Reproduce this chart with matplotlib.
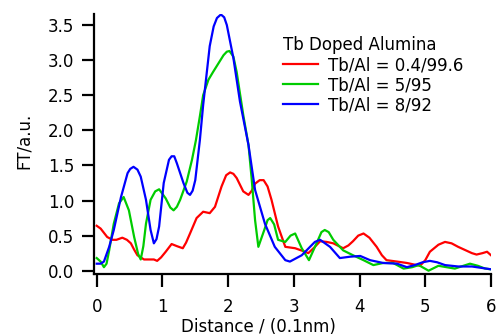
import matplotlib
matplotlib.use("Agg")
import matplotlib.pyplot as plt

plt.rcParams['font.family'] = ['DejaVu Sans']

# distance (0.1 nm) and FT amplitude
red_x = [0.0, 0.06, 0.16, 0.24, 0.30, 0.39, 0.46, 0.52, 0.57, 0.62, 0.72, 0.87, 0.92,
         0.98, 1.05, 1.14, 1.22, 1.31, 1.36, 1.42, 1.52, 1.62, 1.72, 1.80, 1.90, 1.97,
         2.03, 2.08, 2.13, 2.23, 2.31, 2.36, 2.41, 2.48, 2.54, 2.60, 2.66, 2.76, 2.87,
         3.02, 3.17, 3.22, 3.31, 3.40, 3.50, 3.60, 3.75, 3.83, 3.90, 3.98, 4.06, 4.15,
         4.26, 4.34, 4.41, 4.57, 4.72, 4.92, 5.00, 5.07, 5.20, 5.30, 5.40, 5.50, 5.71,
         5.78, 5.87, 5.94, 6.00]
red_y = [0.64, 0.60, 0.48, 0.44, 0.44, 0.47, 0.44, 0.39, 0.30, 0.22, 0.16, 0.16, 0.14,
         0.19, 0.27, 0.38, 0.35, 0.32, 0.40, 0.53, 0.75, 0.84, 0.82, 0.91, 1.20, 1.36,
         1.40, 1.38, 1.32, 1.13, 1.08, 1.14, 1.24, 1.29, 1.29, 1.20, 1.01, 0.63, 0.34,
         0.32, 0.27, 0.25, 0.33, 0.42, 0.41, 0.39, 0.32, 0.36, 0.42, 0.50, 0.53, 0.47,
         0.34, 0.22, 0.15, 0.13, 0.11, 0.07, 0.15, 0.27, 0.37, 0.41, 0.39, 0.34, 0.25,
         0.23, 0.25, 0.27, 0.22]

green_x = [0.0, 0.06, 0.11, 0.15, 0.19, 0.26, 0.34, 0.41, 0.49, 0.57, 0.63, 0.67, 0.71,
           0.75, 0.82, 0.89, 0.95, 1.05, 1.12, 1.17, 1.22, 1.27, 1.37, 1.45, 1.51, 1.57,
           1.62, 1.70, 1.77, 1.85, 1.93, 1.98, 2.02, 2.08, 2.13, 2.23, 2.31, 2.36, 2.41,
           2.46, 2.55, 2.60, 2.64, 2.70, 2.76, 2.87, 2.95, 3.02, 3.12, 3.23, 3.35, 3.42,
           3.47, 3.53, 3.60, 3.75, 3.90, 4.06, 4.21, 4.36, 4.51, 4.67, 4.80, 4.90, 5.05,
           5.20, 5.45, 5.58, 5.68, 5.80, 5.91, 6.00]
green_y = [0.18, 0.13, 0.05, 0.10, 0.29, 0.67, 0.96, 1.05, 0.86, 0.48, 0.24, 0.16, 0.35,
           0.67, 1.01, 1.13, 1.16, 1.03, 0.90, 0.86, 0.91, 1.01, 1.27, 1.58, 1.86, 2.20,
           2.50, 2.72, 2.83, 2.95, 3.07, 3.12, 3.13, 3.05, 2.83, 2.22, 1.79, 1.29, 0.72,
           0.34, 0.58, 0.72, 0.75, 0.66, 0.44, 0.41, 0.50, 0.53, 0.32, 0.15, 0.40, 0.55,
           0.58, 0.55, 0.44, 0.29, 0.22, 0.15, 0.08, 0.11, 0.11, 0.03, 0.05, 0.08, 0.00,
           0.07, 0.03, 0.07, 0.10, 0.07, 0.03, 0.02]

blue_x = [0.0, 0.06, 0.11, 0.19, 0.26, 0.37, 0.47, 0.51, 0.56, 0.62, 0.67, 0.75, 0.82,
          0.87, 0.91, 0.95, 1.02, 1.10, 1.14, 1.18, 1.22, 1.32, 1.38, 1.42, 1.46, 1.50,
          1.57, 1.62, 1.72, 1.78, 1.83, 1.89, 1.94, 1.98, 2.08, 2.18, 2.31, 2.41, 2.56,
          2.71, 2.87, 2.94, 3.12, 3.32, 3.40, 3.55, 3.70, 3.86, 4.01, 4.16, 4.36, 4.57,
          4.72, 4.84, 4.96, 5.07, 5.18, 5.30, 5.50, 5.71, 6.00]
blue_y = [0.10, 0.10, 0.13, 0.34, 0.58, 1.05, 1.39, 1.45, 1.48, 1.44, 1.34, 1.01, 0.58,
          0.39, 0.45, 0.63, 1.25, 1.58, 1.63, 1.63, 1.53, 1.25, 1.11, 1.08, 1.14, 1.29,
          1.86, 2.36, 3.20, 3.48, 3.60, 3.65, 3.61, 3.50, 3.03, 2.41, 1.79, 1.15, 0.67,
          0.34, 0.15, 0.13, 0.22, 0.41, 0.44, 0.34, 0.18, 0.20, 0.21, 0.15, 0.11, 0.10,
          0.05, 0.08, 0.12, 0.14, 0.12, 0.08, 0.06, 0.06, 0.02]

labels = ['Tb/Al = 0.4/99.6', 'Tb/Al = 5/95', 'Tb/Al = 8/92']
colors = ['#ff0000', '#00cc00', '#0000ff']

W, H = 499, 336
fig = plt.figure(figsize=(W / 100, H / 100), dpi=100)
ax = fig.add_axes([94 / W, (H - 274) / H, (491 - 94) / W, (274 - 14) / H])

for xs, ys, c, lab in zip([red_x, green_x, blue_x], [red_y, green_y, blue_y], colors, labels):
    ax.plot(xs, ys, color=c, lw=1.6, label=lab)

ax.set_xlim(-0.041, 6.0)
ax.set_ylim(-0.047, 3.657)
ax.set_xticks(range(7))
ax.set_yticks([0, 0.5, 1.0, 1.5, 2.0, 2.5, 3.0, 3.5])
ax.set_yticklabels(['0.0', '0.5', '1.0', '1.5', '2.0', '2.5', '3.0', '3.5'])
for s in ['top', 'right']:
    ax.spines[s].set_visible(False)
for s in ['left', 'bottom']:
    ax.spines[s].set_linewidth(1.6)
ax.tick_params(axis='both', direction='out', length=9, width=1.6, labelsize=12)
ax.tick_params(axis='y', pad=5)
ax.tick_params(axis='x', pad=8)
ax.patch.set_alpha(0)

fig.text(23.5 / W, 1 - 141 / H, 'FT/a.u.', rotation=90, ha='center', va='center', fontsize=12)
fig.text(258 / W, 1 - 318 / H, 'Distance / (0.1nm)', ha='center', va='top', fontsize=12)

leg = ax.legend(loc='upper left', bbox_to_anchor=(283 / W, 1 - 36 / H),
                bbox_transform=fig.transFigure, frameon=False, fontsize=12,
                title='Tb Doped Alumina', title_fontsize=12, alignment='left',
                handlelength=2.1, handletextpad=0.6, labelspacing=0.12,
                borderpad=0, borderaxespad=0)

fig.savefig('out.png', dpi=100)
